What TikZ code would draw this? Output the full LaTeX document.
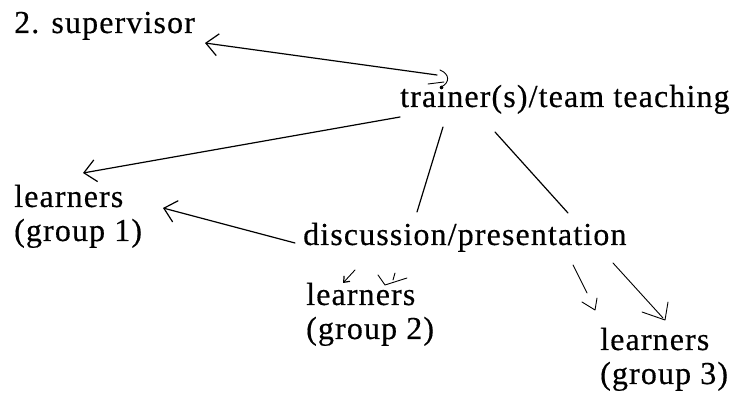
\documentclass[tikz,border=0pt]{standalone}
\usepackage{fontspec}
\setmainfont{Liberation Serif}[LetterSpace=3.5, FakeBold=0.4]
\usetikzlibrary{arrows.meta}
\tikzset{
  lbl/.style={inner sep=0pt, anchor=base west, font=\fontsize{32}{34}\selectfont},
  link/.style={line width=1.2pt, line cap=round, line join=round},
  thin link/.style={line width=0.9pt, line cap=round, line join=round},
  barb/.style={-{Straight Barb[length=12pt, width=22pt, line width=1.2pt]}},
}
\begin{document}
\begin{tikzpicture}[x=1pt, y=-1pt]
  \useasboundingbox (0,0) rectangle (734,395);

  % labels
  \node[lbl] (sup)  at (14,33)   {2. supervisor};
  \node[lbl] (tr)   at (400,107) {trainer(s)/team teaching};
  \node[lbl] (l1)   at (14,207)  {\begin{tabular}[t]{@{}l@{}}learners\\(group 1)\end{tabular}};
  \node[lbl] (disc) at (303,245) {discussion/presentation};
  \node[lbl] (l2)   at (306,305) {\begin{tabular}[t]{@{}l@{}}learners\\(group 2)\end{tabular}};
  \node[lbl] (l3)   at (600,350) {\begin{tabular}[t]{@{}l@{}}learners\\(group 3)\end{tabular}};

  % connector ends
  \coordinate (trA) at (437,75);
  \coordinate (supIn) at (205,43);
  \coordinate (trB) at (400,117);
  \coordinate (l1InA) at (83,173);
  \coordinate (discA) at (295,243);
  \coordinate (l1InB) at (163,208);
  \coordinate (trC) at (443,127);
  \coordinate (discB) at (417,212);
  \coordinate (trD) at (495,132);
  \coordinate (discC) at (568,213);
  \coordinate (discD) at (355,270);
  \coordinate (l2InA) at (343,283);
  \coordinate (discE) at (573,265);
  \coordinate (discF) at (587,293);
  \coordinate (discG) at (613,263);
  \coordinate (l3In) at (663,318);

  % trainer -> supervisor, with the curled end above the trainer label
  \draw[link, barb] (trA) -- (supIn);
  \draw[thin link] (440,70) .. controls (450,74) and (450,83) .. (441,87);
  \draw[thin link] (428,84) -- (444,82);

  % trainer -> learners (group 1)
  \draw[link, barb] (trB) -- (l1InA);
  % discussion -> learners (group 1)
  \draw[link, barb] (discA) -- (l1InB);
  % trainer -- discussion
  \draw[link] (trC) -- (discB);
  \draw[link] (trD) -- (discC);

  % discussion -> learners (group 2)
  \draw[thin link, -{Straight Barb[length=5pt, width=8pt, line width=1.2pt]}] (discD) -- (l2InA);
  \draw[thin link] (378,275) -- (385,285) -- (407,278);
  \draw[thin link] (395,273) -- (393,280);

  % discussion -> learners (group 3)
  \draw[thin link] (discE) -- (discF);
  \draw[thin link] (582,302) -- (595,310) -- (597,298);
  \draw[thin link] (discG) -- (l3In);
  \draw[thin link] (642,312) -- (665,320) -- (668,302);
\end{tikzpicture}
\end{document}
